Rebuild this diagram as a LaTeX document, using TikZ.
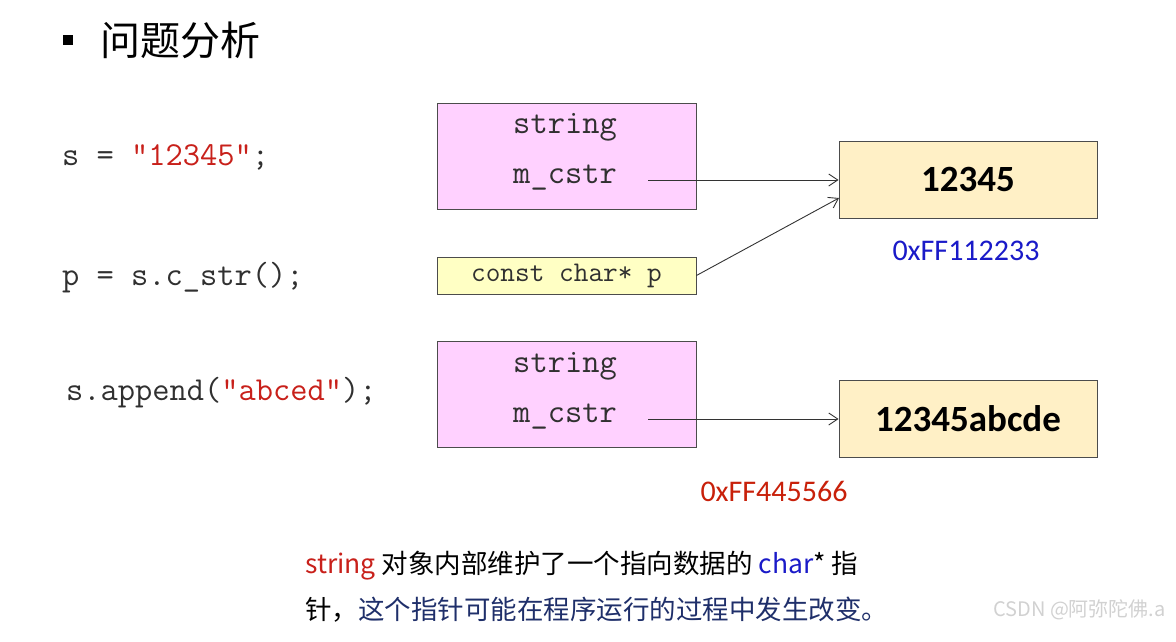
\documentclass[tikz,border=0pt]{standalone}
\usepackage{fontspec}
\setmainfont{Carlito}
\newfontfamily\cjk{Noto Sans CJK SC}
\usetikzlibrary{arrows.meta}
\definecolor{pinkfill}{HTML}{FFD1FF}
\definecolor{yelfill}{HTML}{FFFFC4}
\definecolor{datafill}{HTML}{FFF0C6}
\definecolor{codered}{HTML}{C8201A}
\definecolor{addrblue}{HTML}{1A1AC8}
\definecolor{addrred}{HTML}{C8200A}
\definecolor{navy}{HTML}{1F2F6A}
\definecolor{codegray}{HTML}{303030}
\tikzset{
  code/.style={anchor=west, inner sep=0pt, text=codegray, font=\ttfamily\fontsize{33.5}{38}\selectfont},
  objbox/.style={draw=black!70, line width=0.9pt, fill=pinkfill, minimum width=259pt, minimum height=106pt, inner sep=0pt},
  ptrbox/.style={draw=black!70, line width=0.9pt, fill=yelfill, minimum width=259pt, minimum height=37pt, inner sep=0pt, text=codegray, font=\ttfamily\fontsize{28.5}{32}\selectfont},
  databox/.style={draw=black!70, line width=0.9pt, fill=datafill, minimum width=258pt, minimum height=77pt, inner sep=0pt, font=\bfseries\fontsize{37}{44}\selectfont},
  field/.style={inner sep=0pt, text=codegray, font=\ttfamily\fontsize{33.5}{38}\selectfont},
  addr/.style={inner sep=0pt, font=\fontsize{30}{36}\selectfont},
  ptr/.style={draw=black!80, line width=0.9pt, -{Straight Barb[length=9pt,width=12pt]}},
  note/.style={anchor=west, inner sep=0pt, font=\cjk\fontsize{26.5}{30}\selectfont}
}
\begin{document}
\begin{tikzpicture}[x=1pt,y=-1pt]
\useasboundingbox (0,0) rectangle (1176,641);
% title
\fill[black] (63,35) rectangle (73,45);
\node[anchor=west, inner sep=0pt, font=\cjk\fontsize{40}{46}\selectfont] (title) at (100,40) {问题分析};
% code lines
\node[code] (c1) at (62,157) {s = \textcolor{codered}{"12345"};};
\node[code] (c2) at (62,278) {p = s.c\_str();};
\node[code] (c3) at (66,393) {s.append(\textcolor{codered}{"abced"});};
% string object 1
\node[objbox] (obj1) at (566.5,156) {};
\node[field] (s1) at (565,127) {string};
\node[field] (m1) at (565,178) {m\_cstr};
\coordinate (m1e) at (648,180);
% pointer p
\node[ptrbox] (pp) at (566.5,275.5) {const char* p};
% data 1
\node[databox] (d1) at (968,179.5) {12345};
\node[addr, text=addrblue] (a1) at (966,251) {0xFF112233};
% string object 2
\node[objbox] (obj2) at (566.5,394) {};
\node[field] (s2) at (565,366) {string};
\node[field] (m2) at (565,417) {m\_cstr};
\coordinate (m2e) at (648,419);
% data 2
\node[databox] (d2) at (968,418.5) {12345abcde};
\node[addr, text=addrred] (a2) at (774,491) {0xFF445566};
% arrows
\draw[ptr] (m1e) -- (d1.west |- m1e);
\coordinate (d1in) at (839,198);
\draw[ptr] (pp.east) -- (d1in);
\draw[ptr] (m2e) -- (d2.west |- m2e);
% note
\node[note] (n1) at (305,566) {\textcolor{codered}{string} 对象内部维护了一个指向数据的 \textcolor{addrblue}{char}* 指};
\node[note] (n2) at (305,610) {针，\textcolor{navy}{这个指针可能在程序运行的过程中发生改变。}};
% watermark
\node[anchor=east, inner sep=0pt, text=black!18, font=\cjk\fontsize{20}{24}\selectfont] (wm) at (1166,610) {CSDN @阿弥陀佛.a};
\end{tikzpicture}
\end{document}
